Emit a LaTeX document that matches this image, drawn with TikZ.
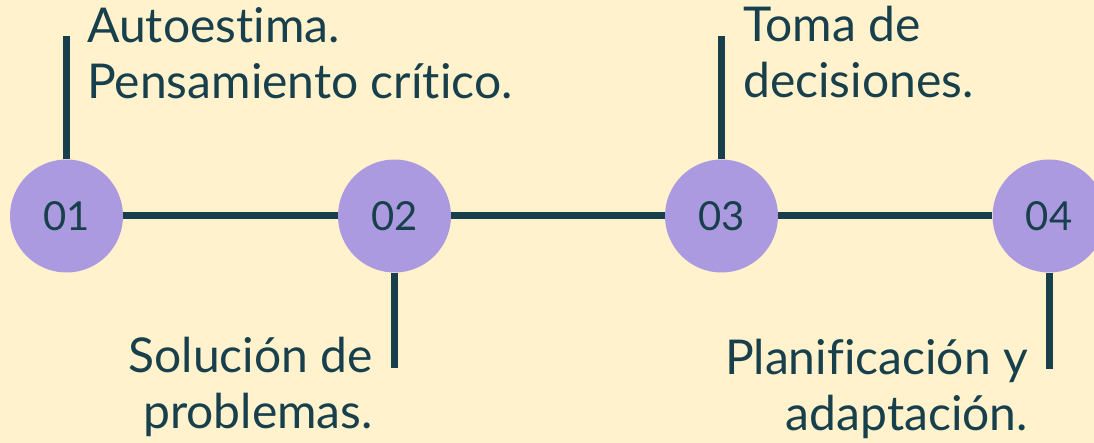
\documentclass[tikz,border=0pt]{standalone}
\usepackage{fontspec}
\setmainfont{Lato}[Ligatures=CommonOff]
\usepackage{tikz}
\definecolor{paperBg}{HTML}{FFF2CC}
\definecolor{dotPurple}{HTML}{AC9AE0}
\definecolor{lineTeal}{HTML}{173F4C}
\tikzset{
 stepdot/.style = {circle, fill=dotPurple, minimum size=113pt, inner sep=0pt,
   text=lineTeal, font=\fontsize{40}{40}\selectfont},
 stepline/.style = {draw=lineTeal, line width=7pt},
 steptext/.style = {text=lineTeal, inner sep=0pt, font=\fontsize{48}{56}\selectfont}
}
\newcommand{\stepDot}[3]{
    \node[stepdot] (#1) at (#2, 216) {#3};
}

\begin{document}
\begin{tikzpicture}[x=1pt, y=-1pt]
    \fill[paperBg] (0, 0) rectangle (1094, 443);
    \useasboundingbox (0, 0) rectangle (1094, 443);
    \clip (0, 0) rectangle (1094, 443);
    \stepDot{s1}{66.5}{01}
    \stepDot{s2}{394.5}{02}
    \stepDot{s3}{721.5}{03}
    \stepDot{s4}{1049}{04}
    \coordinate (t1) at (66.5, 36);
    \coordinate (b2) at (394.5, 368);
    \coordinate (t3) at (721.5, 36);
    \coordinate (b4) at (1049, 369);
    \draw[stepline] (s1) -- (s2);
    \draw[stepline] (s2) -- (s3);
    \draw[stepline] (s3) -- (s4);
    \draw[stepline] (s1) -- (t1);
    \draw[stepline] (s2) -- (b2);
    \draw[stepline] (s3) -- (t3);
    \draw[stepline] (s4) -- (b4);
    % base anchor sits on the last line
    \node[steptext, align=left, anchor=base west] (txt1) at (87, 99)
        {Autoestima.\\Pensamiento crítico.};
    \node[steptext, align=right, anchor=base east] (txt2) at (373, 428)
        {Solución de\\problemas.};
    \node[steptext, align=left, anchor=base west] (txt3) at (743, 98)
        {Toma de\\decisiones.};
    \node[steptext, align=right, anchor=base east] (txt4) at (1028, 430)
        {Planificación y\\adaptación.};
\end{tikzpicture}
\end{document}
